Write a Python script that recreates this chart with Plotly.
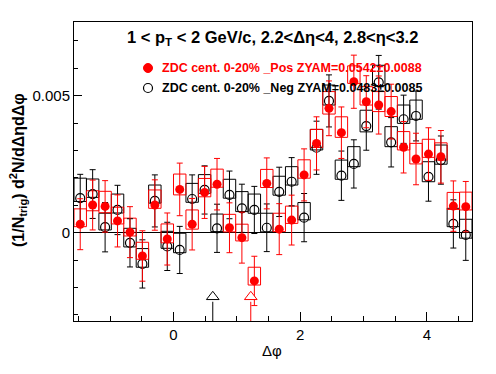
import plotly.graph_objects as go

# Bin centres in delta-phi (32 bins over -pi/2 .. 3pi/2)
dphi = [-1.4726, -1.2763, -1.0799, -0.8836, -0.6872, -0.4909, -0.2945, -0.0982,
        0.0982, 0.2945, 0.4909, 0.6872, 0.8836, 1.0799, 1.2763, 1.4726,
        1.6690, 1.8653, 2.0617, 2.2580, 2.4544, 2.6507, 2.8471, 3.0434,
        3.2398, 3.4361, 3.6325, 3.8288, 4.0252, 4.2215, 4.4179, 4.6142]
bin_width = 0.19635

# values in units of 1e-3
neg_val = [1.26, 1.41, 0.20, 0.83, -0.37, -1.14, 1.16, -0.50, -0.63, 1.23, 1.56, 0.16, 1.38, 0.89, 0.83, 0.18,
           1.49, 1.86, 0.55, 3.10, 4.81, 2.08, 2.51, 3.89, 5.49, 3.30, 4.14, 4.26, 2.04, 2.65, 0.32, -0.08]
neg_err = [0.87, 0.89, 0.90, 0.90, 0.88, 0.88, 0.95, 0.88, 0.86, 0.88, 0.88, 0.88, 0.87, 0.88, 0.86, 0.87,
           0.90, 0.88, 0.88, 0.97, 0.95, 0.90, 0.88, 0.88, 0.98, 0.90, 0.88, 0.91, 0.89, 0.88, 0.88, 0.93]
neg_sys_up = [0.73, 0.55, 0.51, 0.58, 0.53, 0.56, 0.58, 0.55, 0.61, 0.57, 0.56, 0.52, 0.57, 0.61, 0.58, 0.53,
              0.57, 0.55, 0.55, 0.67, 0.58, 0.57, 0.63, 0.58, 0.62, 0.57, 0.52, 0.58, 0.55, 0.55, 0.57, 0.57]
neg_sys_dn = [0.12, 0.12, 0.10, 0.11, 0.15, 0.12, 0.08, 0.07, 0.10, 0.12, 0.12, 0.12, 0.12, 0.12, 0.12, 0.15,
              0.12, 0.12, 0.08, 0.08, 0.15, 0.13, 0.10, 0.21, 0.12, 0.16, 0.15, 0.12, 0.18, 0.15, 0.10, 0.12]

pos_val = [0.31, 1.01, 0.96, 0.43, 0.02, -0.85, 1.01, -0.23, 1.58, 0.31, 1.47, 1.77, 0.18, -0.18, -1.76, 1.80,
           0.13, 0.46, 2.11, 3.26, 4.54, 3.65, 5.51, 4.78, 4.66, 4.42, 3.12, 2.69, 2.87, 2.77, 0.97, 0.95]
pos_err = [0.93, 0.91, 0.94, 0.95, 0.93, 0.92, 0.92, 0.95, 0.96, 0.94, 0.95, 0.94, 0.91, 0.93, 0.90, 0.93,
           0.93, 0.91, 0.95, 0.97, 1.00, 0.94, 0.97, 0.95, 1.06, 1.00, 0.94, 0.94, 0.96, 0.96, 0.92, 0.92]
pos_sys_up = [0.56, 0.52, 0.55, 0.50, 0.51, 0.50, 0.55, 0.55, 0.56, 0.52, 0.51, 0.55, 0.49, 0.49, 0.50, 0.51,
              0.58, 0.51, 0.55, 0.51, 0.61, 0.58, 0.58, 0.55, 0.49, 0.55, 0.57, 0.57, 0.54, 0.51, 0.50, 0.53]
pos_sys_dn = [0.09, 0.21, 0.23, 0.11, 0.14, 0.12, 0.12, 0.14, 0.20, 0.18, 0.16, 0.11, 0.15, 0.12, 0.15, 0.15,
              0.09, 0.12, 0.12, 0.15, 0.21, 0.17, 0.06, 0.12, 0.24, 0.18, 0.10, 0.18, 0.12, 0.12, 0.12, 0.12]

# ZYAM arrows (delta-phi position)
arrow_neg_x = 0.62
arrow_pos_x = 1.22

title_text = "1 < p<sub>T</sub> < 2 GeV/c, 2.2<Δη<4, 2.8<η<3.2"
pos_label = "ZDC cent. 0-20% _Pos ZYAM=0.0542±0.0088"
neg_label = "ZDC cent. 0-20% _Neg ZYAM=0.0483±0.0085"

S = 1e-3
x_range = [-1.5708, 4.7124]
y_range = [-0.003223, 0.00769]
FONT = "Liberation Sans, Arial, Helvetica, sans-serif"

fig = go.Figure()


def boxes(vals, up, dn, color):
    xs, ys = [], []
    h = bin_width / 2
    for c, v, u, d in zip(dphi, vals, up, dn):
        lo, hi = (v - d) * S, (v + u) * S
        xs += [c - h, c + h, c + h, c - h, c - h, None]
        ys += [lo, lo, hi, hi, lo, None]
    return go.Scatter(x=xs, y=ys, mode="lines", line=dict(color=color, width=1),
                      showlegend=False, hoverinfo="skip")


fig.add_trace(boxes(neg_val, neg_sys_up, neg_sys_dn, "black"))
fig.add_trace(boxes(pos_val, pos_sys_up, pos_sys_dn, "red"))

fig.add_trace(go.Scatter(
    x=dphi, y=[v * S for v in neg_val], mode="markers",
    marker=dict(symbol="circle-open", size=9, color="black", line=dict(width=1.2)),
    error_y=dict(type="data", array=[e * S for e in neg_err], color="black", thickness=1, width=3),
    showlegend=False,
))
fig.add_trace(go.Scatter(
    x=dphi, y=[v * S for v in pos_val], mode="markers",
    marker=dict(symbol="circle", size=9, color="red"),
    error_y=dict(type="data", array=[e * S for e in pos_err], color="red", thickness=1, width=3),
    showlegend=False,
))

# arrows
arrow_base = -0.00252
arrow_mid = -0.00234
for ax, col in [(arrow_neg_x, "black"), (arrow_pos_x, "red")]:
    fig.add_trace(go.Scatter(x=[ax, ax], y=[y_range[0], arrow_base], mode="lines",
                             line=dict(color=col, width=1), showlegend=False, hoverinfo="skip"))
    fig.add_trace(go.Scatter(x=[ax], y=[arrow_mid], mode="markers",
                             marker=dict(symbol="triangle-up", size=11, color="white",
                                         line=dict(color=col, width=1)),
                             showlegend=False, hoverinfo="skip"))

L, R, T, B = 74, 24, 22, 53
W, H = 496, 374
pw, ph = W - L - R, H - T - B


def px_x(px):
    return (px - L) / pw


def px_y(py):
    return (H - B - py) / ph


annotations = [
    dict(text="<b>" + title_text + "</b>", x=px_x(272), y=px_y(38), xref="paper", yref="paper",
         xanchor="center", yanchor="middle", showarrow=False, font=dict(family=FONT, size=16.5, color="black")),
    dict(text="<b>" + pos_label + "</b>", x=px_x(160), y=px_y(68), xref="paper", yref="paper",
         xanchor="left", yanchor="middle", showarrow=False, font=dict(family=FONT, size=12.5, color="red")),
    dict(text="<b>" + neg_label + "</b>", x=px_x(160), y=px_y(88), xref="paper", yref="paper",
         xanchor="left", yanchor="middle", showarrow=False, font=dict(family=FONT, size=12.5, color="black")),
    dict(text="<b>(1/N<sub>trig</sub>) d<sup>2</sup>N/dΔηdΔφ</b>", x=px_x(18), y=px_y(170), xref="paper",
         yref="paper", xanchor="center", yanchor="middle", textangle=-90, showarrow=False,
         font=dict(family=FONT, size=16, color="black")),
    dict(text="Δφ", x=px_x(272), y=px_y(350), xref="paper", yref="paper", xanchor="center",
         yanchor="middle", showarrow=False, font=dict(family=FONT, size=15, color="black")),
]

shapes = [
    dict(type="circle", xref="paper", yref="paper", xsizemode="pixel", ysizemode="pixel",
         xanchor=px_x(148), yanchor=px_y(68), x0=-4.5, x1=4.5, y0=-4.5, y1=4.5,
         fillcolor="red", line=dict(color="red", width=1)),
    dict(type="circle", xref="paper", yref="paper", xsizemode="pixel", ysizemode="pixel",
         xanchor=px_x(148), yanchor=px_y(88), x0=-4.5, x1=4.5, y0=-4.5, y1=4.5,
         fillcolor="white", line=dict(color="black", width=1.2)),
]

fig.update_layout(
    width=W, height=H,
    margin=dict(l=L, r=R, t=T, b=B, pad=0, autoexpand=False),
    paper_bgcolor="white", plot_bgcolor="white",
    showlegend=False,
    font=dict(family=FONT, size=15, color="black"),
    annotations=annotations, shapes=shapes,
    xaxis=dict(range=x_range, showgrid=False, zeroline=False, showline=True, linecolor="black",
               linewidth=1, mirror=True, ticks="inside", ticklen=9, tickcolor="black", automargin=False,
               tick0=0, dtick=2, tickfont=dict(family=FONT, size=15),
               minor=dict(ticks="inside", ticklen=5, dtick=0.5, tick0=0, tickcolor="black", showgrid=False)),
    yaxis=dict(range=y_range, showgrid=False, zeroline=True, zerolinecolor="black", zerolinewidth=1,
               showline=True, linecolor="black", linewidth=1, mirror=True, ticks="inside", ticklen=8,
               tickcolor="black", tick0=0, dtick=0.005, automargin=False, tickfont=dict(family=FONT, size=15),
               minor=dict(ticks="inside", ticklen=4, dtick=0.001, tick0=0, tickcolor="black", showgrid=False)),
)

fig.write_html("out.html", config={"displayModeBar": False},
               post_script="document.body.style.margin='0';document.body.style.overflow='hidden';")
